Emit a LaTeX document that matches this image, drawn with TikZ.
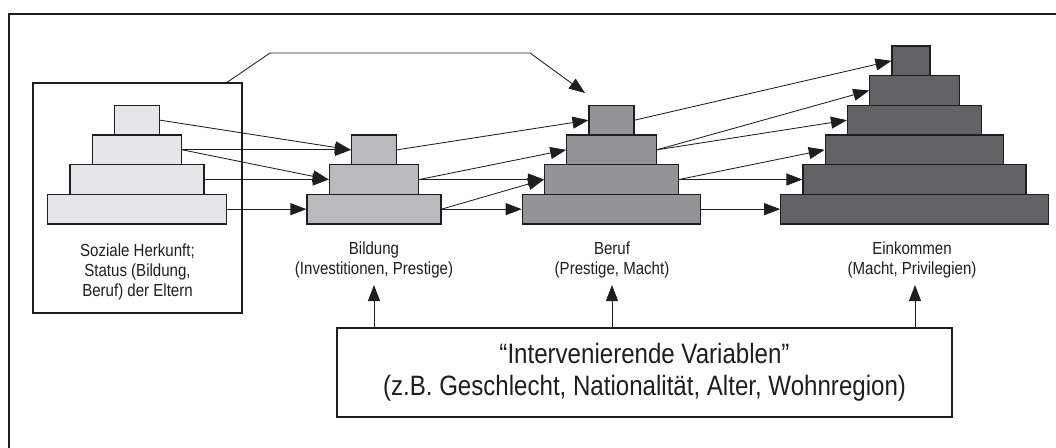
\documentclass[tikz,border=0pt]{standalone}
\usepackage{fontspec}
\setmainfont{Liberation Sans}[FakeStretch=0.86]
\usetikzlibrary{arrows.meta}
\definecolor{pA}{HTML}{E6E6E8}
\definecolor{pB}{HTML}{BABABD}
\definecolor{pC}{HTML}{949497}
\definecolor{pD}{HTML}{636366}
\definecolor{ink}{HTML}{1E1E1E}
\tikzset{
  lvl/.style={draw=ink, line width=1.1pt, inner sep=0pt, minimum height=29.67pt},
  arr/.style={draw=ink, line width=0.85pt, -{Triangle[length=16pt,width=12pt]}},
  box/.style={draw=ink, line width=1.3pt, inner sep=0pt},
  lab/.style={align=center, inner sep=0pt, font=\fontsize{17.5}{20}\selectfont, text=ink},
  big/.style={align=center, font=\fontsize{28}{32}\selectfont, text=ink},
}
\begin{document}
\begin{tikzpicture}[x=1pt,y=-1pt]
\useasboundingbox (0,0) rectangle (1056,447);
% frame (only top and left edges visible)
\draw[ink, line width=1.3pt] (9,470) -- (9,14) -- (1080,14);

% origin box
\node[box, minimum width=209pt, minimum height=230pt] (orig) at (137.5,198) {};

% pyramid 1 (Soziale Herkunft)
\node[lvl, fill=pA, minimum width=45pt]    (a1) at (137,120.17) {};
\node[lvl, fill=pA, minimum width=89.5pt]  (a2) at (137,149.83) {};
\node[lvl, fill=pA, minimum width=134pt]   (a3) at (137,179.5) {};
\node[lvl, fill=pA, minimum width=178.5pt] (a4) at (137,209.17) {};

% pyramid 2 (Bildung)
\node[lvl, fill=pB, minimum width=45pt]    (b1) at (374,149.83) {};
\node[lvl, fill=pB, minimum width=89.5pt]  (b2) at (374,179.5) {};
\node[lvl, fill=pB, minimum width=134pt]   (b3) at (374,209.17) {};

% pyramid 3 (Beruf)
\node[lvl, fill=pC, minimum width=45pt]    (c1) at (611.5,120.17) {};
\node[lvl, fill=pC, minimum width=89.5pt]  (c2) at (611.5,149.83) {};
\node[lvl, fill=pC, minimum width=134pt]   (c3) at (611.5,179.5) {};
\node[lvl, fill=pC, minimum width=178.5pt] (c4) at (611.5,209.17) {};

% pyramid 4 (Einkommen)
\node[lvl, fill=pD, minimum width=38pt]    (d1) at (911,60.83) {};
\node[lvl, fill=pD, minimum width=89.5pt]  (d2) at (914.5,90.5) {};
\node[lvl, fill=pD, minimum width=134pt]   (d3) at (914.5,120.17) {};
\node[lvl, fill=pD, minimum width=178.5pt] (d4) at (914.5,149.83) {};
\node[lvl, fill=pD, minimum width=223pt]   (d5) at (914.5,179.5) {};
\node[lvl, fill=pD, minimum width=267.5pt] (d6) at (914.5,209.17) {};

% labels
\node[lab] (l1) at (137.5,272) {Soziale Herkunft;\\Status (Bildung,\\Beruf) der Eltern};
\node[lab] (l2) at (374,260) {Bildung\\(Investitionen, Prestige)};
\node[lab] (l3) at (612,260) {Beruf\\(Prestige, Macht)};
\node[lab] (l4) at (912,260) {Einkommen\\(Macht, Privilegien)};

% intervening variables box
\node[box, big, minimum width=615pt, minimum height=89pt] (iv) at (644.5,372.5)
  {“Intervenierende Variablen”\\(z.B. Geschlecht, Nationalität, Alter, Wohnregion)};

% arrows P1 -> P2
\draw[arr] (a1.east) -- (b1.west);
\draw[arr] (a2.east) -- (b1.west);
\draw[arr] (a2.east) -- (b2.west);
\draw[arr] (a3.east) -- (b2.west);
\draw[arr] (a4.east) -- (b3.west);
% arrows P2 -> P3
\draw[arr] (b1.east) -- (c1.west);
\draw[arr] (b2.east) -- (c2.west);
\draw[arr] (b2.east) -- (c3.west);
\draw[arr] (b3.east) -- (c3.west);
\draw[arr] (b3.east) -- (c4.west);
% arrows P3 -> P4
\draw[arr] (c1.east) -- (d1.west);
\draw[arr] (c2.east) -- (d2.west);
\draw[arr] (c2.east) -- (d3.west);
\draw[arr] (c3.east) -- (d4.west);
\draw[arr] (c3.east) -- (d5.west);
\draw[arr] (c4.east) -- (d6.west);

% big arrow from origin box to Beruf
\coordinate (k1) at (270,53);
\coordinate (k2) at (530,53);
\coordinate (kt) at (585,93);
\draw[arr] ([xshift=89.5pt]orig.north) -- (k1) -- (k2) -- (kt);

% upward arrows from intervening box
\coordinate (u2) at (374,285);
\coordinate (u3) at (612,285);
\coordinate (u4) at (915,285);
\draw[arr] (iv.north -| u2) -- (u2);
\draw[arr] (iv.north -| u3) -- (u3);
\draw[arr] (iv.north -| u4) -- (u4);
\end{tikzpicture}
\end{document}
